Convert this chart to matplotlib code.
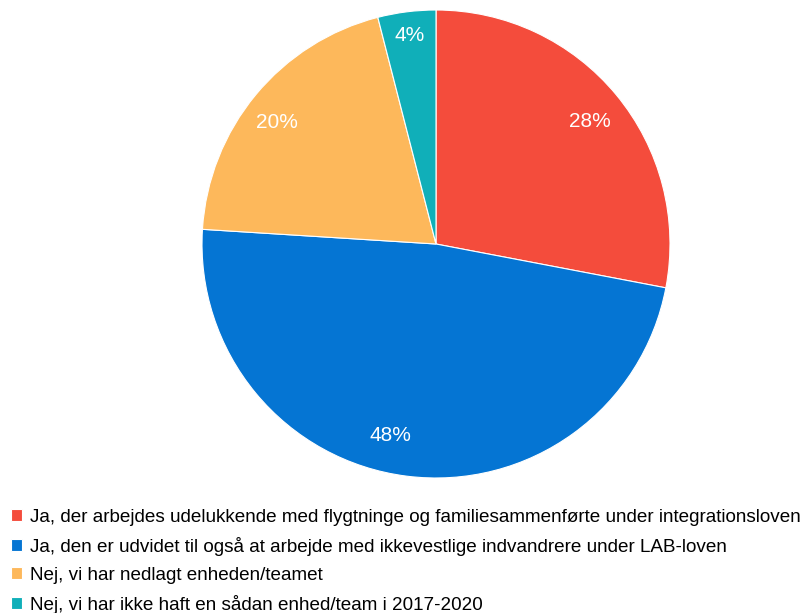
import matplotlib
matplotlib.use('Agg')
import matplotlib.pyplot as plt
import numpy as np

labels = ['Ja, der arbejdes udelukkende med flygtninge og familiesammenførte under integrationsloven',
          'Ja, den er udvidet til også at arbejde med ikkevestlige indvandrere under LAB-loven',
          'Nej, vi har nedlagt enheden/teamet',
          'Nej, vi har ikke haft en sådan enhed/team i 2017-2020']
values = [28, 48, 20, 4]
colors = ['#F44C3C', '#0575D3', '#FDB85B', '#10AFB9']

plt.rcParams['font.family'] = ['Liberation Sans', 'DejaVu Sans']

fig = plt.figure(figsize=(8.03, 6.13), dpi=100)
ax = fig.add_axes([202 / 803, 1 - 478 / 613, 468 / 803, 468 / 613])

wedges, texts, autotexts = ax.pie(values, colors=colors, startangle=90, counterclock=False,
                                  autopct='%d%%', pctdistance=0.84, radius=1,
                                  wedgeprops={'edgecolor': 'white', 'linewidth': 0.8},
                                  textprops={'color': 'white', 'fontsize': 15})

# nudge the % labels a little (the original tool does not sit them exactly mid-slice)
shift = [(0.84, -1.0), (0.84, -6.3), (0.855, 2.3), (0.9, 0.0)]
for w, t, (r, da) in zip(wedges, autotexts, shift):
    a = np.deg2rad((w.theta1 + w.theta2) / 2 + da)
    t.set_position((r * np.cos(a), r * np.sin(a)))

ax.set_xlim(-1, 1)
ax.set_ylim(-1, 1)
ax.set_aspect('equal')
ax.axis('off')

fig.legend(wedges, labels, loc='upper left', bbox_to_anchor=(11 / 803, 1 - 509 / 613),
           frameon=False, fontsize=13.55, handlelength=0.6, handleheight=0.6,
           handletextpad=0.4, labelspacing=0.58, borderaxespad=0, borderpad=0)

fig.savefig('out.png', dpi=100)
